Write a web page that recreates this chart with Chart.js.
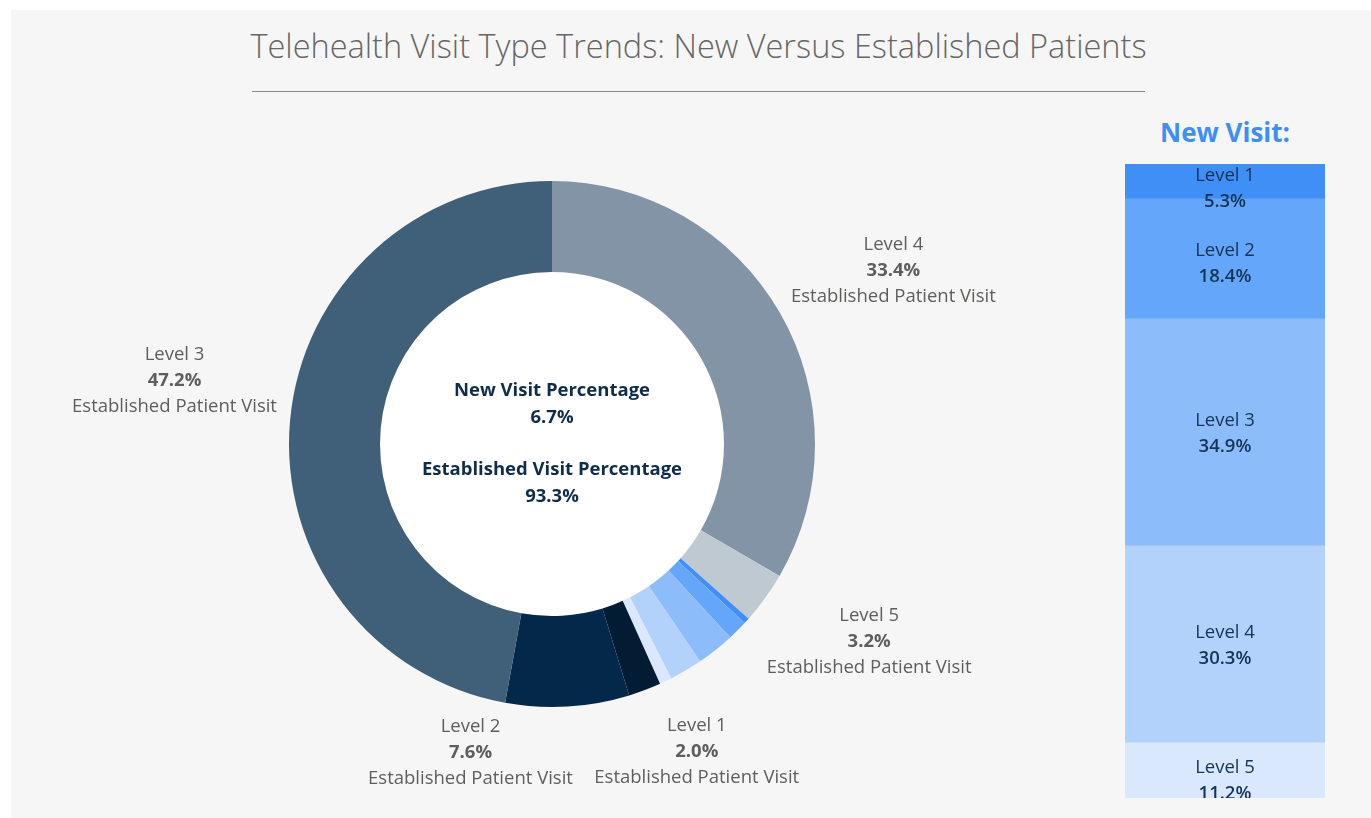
<!DOCTYPE html>
<html>
<head>
<meta charset="utf-8">
<script src="https://cdn.jsdelivr.net/npm/chart.js@4.4.1/dist/chart.umd.min.js"></script>
<style>
  html, body { margin: 0; padding: 0; background: #ffffff; }
  body { width: 1371px; height: 818px; position: relative; overflow: hidden; font-family: 'Open Sans', 'Noto Sans', sans-serif; }
  #panel { position: absolute; left: 11px; top: 10px; width: 1360px; height: 808px; background: #f6f6f6; }
  #title { position: absolute; left: 0; top: 13px; width: 1375px; text-align: center; font-weight: 300; font-size: 32.5px; color: #666666; white-space: nowrap; }
  #rule { position: absolute; left: 241px; top: 81px; width: 893px; height: 1px; background: #8a8a8a; }
  #newHead { position: absolute; left: 1114px; top: 104px; width: 200px; text-align: center; font-weight: 700; font-size: 26px; color: #3d8ff5; }
  #donutWrap { position: absolute; left: 0; top: 90px; width: 1100px; height: 718px; }
  #barWrap { position: absolute; left: 1114px; top: 154px; width: 200px; height: 634px; }
</style>
</head>
<body>
<div id="panel">
  <div id="title">Telehealth Visit Type Trends: New Versus Established Patients</div>
  <div id="rule"></div>
  <div id="newHead">New Visit:</div>
  <div id="donutWrap"><canvas id="donut"></canvas></div>
  <div id="barWrap"><canvas id="bar"></canvas></div>
</div>
<script>
// share of all visits
var newTotal = 6.7;
var establishedTotal = 93.3;

// established visits, % of all visits, in ring order (clockwise from top)
var estLevels = ['Level 4', 'Level 5', 'Level 1', 'Level 2', 'Level 3'];
var estValues = [33.4, 3.2, 2.0, 7.6, 47.2];

// new visits, % of new visits
var newLevels = ['Level 1', 'Level 2', 'Level 3', 'Level 4', 'Level 5'];
var newValues = [5.3, 18.4, 34.9, 30.3, 11.2];

var estColors = ['#8294a6', '#bfc9d2', '#041c33', '#03284a', '#405f79'];
var newColors = ['#3f8ff7', '#64a6f9', '#8cbcfa', '#b3d2fb', '#d9e8fd'];

// ring: est L4, est L5, new L1..L5, est L1, est L2, est L3
var ringLabels = [], ringValues = [], ringColors = [], ringKind = [];
function addEst(i) {
	ringLabels.push(estLevels[i]); ringValues.push(estValues[i]);
	ringColors.push(estColors[i]); ringKind.push({ est: true, idx: i });
}
addEst(0); addEst(1);
newLevels.forEach(function (l, i) {
	ringLabels.push('New ' + l);
	ringValues.push(newValues[i] * newTotal / 100);
	ringColors.push(newColors[i]);
	ringKind.push({ est: false, idx: i });
});
addEst(2); addEst(3); addEst(4);

var FONT = "'Open Sans', 'Noto Sans', sans-serif";

// label nudges (px) for established slices, in estLevels order
var nudges = [[13, 16], [10, -24], [11, -47], [-104, -70], [0, -29]];

var whiteHole = {
	id: 'whiteHole',
	beforeDatasetsDraw: function (chart) {
		var arc = chart.getDatasetMeta(0).data[0];
		if (!arc) return;
		var ctx = chart.ctx;
		ctx.save();
		ctx.fillStyle = '#ffffff';
		ctx.beginPath();
		ctx.arc(arc.x, arc.y, arc.innerRadius, 0, Math.PI * 2);
		ctx.fill();
		ctx.restore();
	}
};

var outsideLabels = {
	id: 'outsideLabels',
	afterDraw: function (chart) {
		var ctx = chart.ctx, meta = chart.getDatasetMeta(0);
		ctx.save();
		ctx.textAlign = 'center';
		ctx.textBaseline = 'middle';
		ctx.fillStyle = '#605e5c';
		meta.data.forEach(function (arc, k) {
			var kind = ringKind[k];
			if (!kind.est) return;
			var p = arc.getProps(['x', 'y', 'startAngle', 'endAngle', 'outerRadius']);
			var mid = (p.startAngle + p.endAngle) / 2;
			var r = p.outerRadius + 116;
			var x = p.x + Math.cos(mid) * r + nudges[kind.idx][0];
			var y = p.y + Math.sin(mid) * r + nudges[kind.idx][1];
			ctx.font = '18.5px ' + FONT;
			ctx.fillText(estLevels[kind.idx], x, y - 26);
			ctx.font = 'bold 18.5px ' + FONT;
			ctx.fillText(estValues[kind.idx].toFixed(1) + '%', x, y);
			ctx.font = '18.5px ' + FONT;
			ctx.fillText('Established Patient Visit', x, y + 26);
		});
		// center text
		var cx = meta.data[0].x, cy = meta.data[0].y;
		ctx.fillStyle = '#102c4c';
		ctx.font = 'bold 18.5px ' + FONT;
		ctx.fillText('New Visit Percentage', cx, cy - 53);
		ctx.fillText(newTotal.toFixed(1) + '%', cx, cy - 26);
		ctx.fillText('Established Visit Percentage', cx, cy + 26);
		ctx.fillText(establishedTotal.toFixed(1) + '%', cx, cy + 53);
		ctx.restore();
	}
};

new Chart(document.getElementById('donut').getContext('2d'), {
	type: 'doughnut',
	data: {
		labels: ringLabels,
		datasets: [{
			data: ringValues,
			backgroundColor: ringColors,
			borderWidth: 0
		}]
	},
	options: {
		responsive: true,
		maintainAspectRatio: false,
		animation: false,
		cutout: '65.4%',
		layout: { padding: { left: 278, right: 296, top: 81, bottom: 111 } },
		plugins: { legend: { display: false }, tooltip: { enabled: false } }
	},
	plugins: [whiteHole, outsideLabels]
});

var barLabels = {
	id: 'barLabels',
	afterDatasetsDraw: function (chart) {
		var ctx = chart.ctx, area = chart.chartArea;
		ctx.save();
		ctx.beginPath();
		ctx.rect(area.left, area.top, area.right - area.left, area.bottom - area.top);
		ctx.clip();
		ctx.textAlign = 'center';
		ctx.textBaseline = 'middle';
		ctx.fillStyle = '#163456';
		chart.data.datasets.forEach(function (ds, i) {
			var bar = chart.getDatasetMeta(i).data[0];
			var p = bar.getProps(['x', 'y', 'base']);
			var cy = (p.y + p.base) / 2 + 2;
			if (i === 0) cy = Math.max(cy, area.top + 25);
			if (i === 1) cy += 3;
			ctx.font = '18.5px ' + FONT;
			ctx.fillText(newLevels[i], p.x, cy - 13);
			ctx.font = '600 18.5px ' + FONT;
			ctx.fillText(ds.data[0].toFixed(1) + '%', p.x, cy + 13);
		});
		ctx.restore();
	}
};

new Chart(document.getElementById('bar').getContext('2d'), {
	type: 'bar',
	data: {
		labels: ['New Visit'],
		datasets: newLevels.map(function (l, i) {
			return {
				label: l,
				data: [newValues[i]],
				backgroundColor: newColors[i],
				borderWidth: 0,
				barPercentage: 1,
				categoryPercentage: 1
			};
		})
	},
	options: {
		responsive: true,
		maintainAspectRatio: false,
		animation: false,
		layout: { padding: 0 },
		scales: {
			x: { stacked: true, display: false },
			y: { stacked: true, display: false, reverse: true, min: 0, max: 97.5 }
		},
		plugins: { legend: { display: false }, tooltip: { enabled: false } }
	},
	plugins: [barLabels]
});
</script>
</body>
</html>
